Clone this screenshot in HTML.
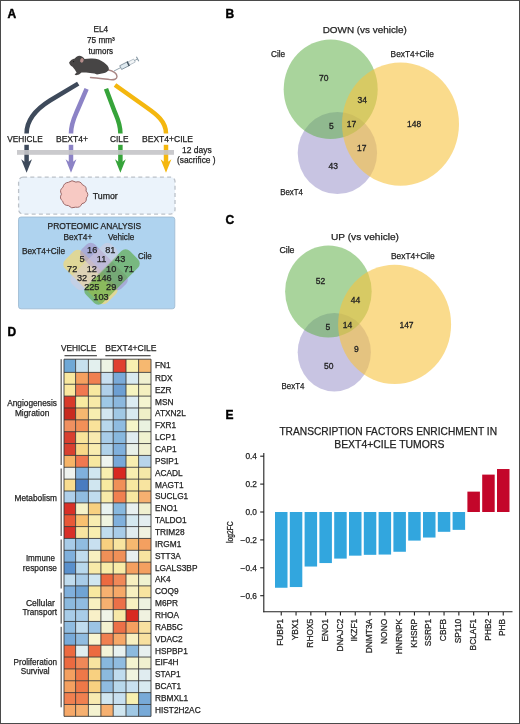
<!DOCTYPE html>
<html><head><meta charset="utf-8"><style>
html,body{margin:0;padding:0;background:#fff;}
svg{display:block;will-change:transform;}
text{font-family:"Liberation Sans",sans-serif;fill:#222;stroke:#222;stroke-width:0.25;}
</style></head><body>
<svg width="520" height="724" viewBox="0 0 520 724">
<rect x="0" y="0" width="520" height="724" fill="#fff"/>
<g font-weight="bold" style="fill:#000;stroke:#000;stroke-width:0.5">
<text x="7.50" y="17.60" font-size="12" style="fill:#000;stroke:#000;stroke-width:0.45">A</text>
<text x="225.50" y="18.00" font-size="12" style="fill:#000;stroke:#000;stroke-width:0.4">B</text>
<text x="225.50" y="224.00" font-size="12" style="fill:#000;stroke:#000;stroke-width:0.4">C</text>
<text x="7.50" y="336.10" font-size="12" style="fill:#000;stroke:#000;stroke-width:0.4">D</text>
<text x="225.50" y="419.10" font-size="12" style="fill:#000;stroke:#000;stroke-width:0.4">E</text>
</g>
<text x="93.50" y="31.80" font-size="8.3" textLength="14.70" lengthAdjust="spacingAndGlyphs">EL4</text>
<text x="87.00" y="42.90" font-size="8.3" textLength="27.80" lengthAdjust="spacingAndGlyphs">75 mm³</text>
<text x="88.60" y="53.50" font-size="8.3" textLength="24.50" lengthAdjust="spacingAndGlyphs">tumors</text>
<path d="M107.5,69.8 C113,71 117,73.5 117,76.6 C117,79.2 114,80 110,79.6 C103,78.8 96,77.9 90.5,77.5" fill="none" stroke="#a98684" stroke-width="1.4" stroke-linecap="round"/>
<path d="M69.1,62.4 C70.5,60 72.5,59 74.8,58.4 C76.5,57 77.5,55.8 79.3,55.8 C81.5,55.8 83.5,57.5 84.6,59.1 C87,58.6 89,58.4 92,58.5 C97,58.6 101,60 104,62.6 C107,65 109,67 108.9,69 C108.7,71 106,72.8 103.2,73.2 L99.5,74 L97,74.6 L94.5,73.4 C91,73.2 89,72.6 86,72.4 L81.5,72.6 L79,74.4 L76,75.2 L74.6,74.6 L76.6,72.4 C75.3,70.6 74.3,68.6 72.5,66.8 C70.8,65.5 69.3,64.2 69.1,62.4 Z" fill="#474545"/>
<ellipse cx="81.9" cy="60.4" rx="1.7" ry="2.3" fill="#b48c8a" transform="rotate(20 81.9 60.4)"/>
<circle cx="73.6" cy="61.6" r="0.6" fill="#1a1a1a"/>
<g transform="translate(114,71) rotate(-27)"><line x1="0" y1="0" x2="7.5" y2="0" stroke="#8596a2" stroke-width="0.8"/><rect x="7.5" y="-2.1" width="9" height="4.2" fill="#dfeaf0" stroke="#7d8e9a" stroke-width="0.8"/><rect x="15.2" y="-2.3" width="1.6" height="4.6" fill="#42525e"/><rect x="16.8" y="-1.7" width="6.2" height="3.4" fill="#f2f5f7" stroke="#9aa8b2" stroke-width="0.6"/><line x1="23" y1="0" x2="26.5" y2="0" stroke="#8596a2" stroke-width="0.8"/><line x1="26.5" y1="-2.6" x2="26.5" y2="2.6" stroke="#8596a2" stroke-width="1.1"/></g>
<g fill="none" stroke-width="4.5">
<path d="M78.2,83.6 L50,100.5 C38,108 26.6,118 26.6,133.4" stroke="#3e4a5b"/>
<path d="M86.6,88.8 L77.5,110 C74.5,117 71,123 71,133.4" stroke="#8c83c6"/>
<path d="M106,88.8 L114,110 C116.8,117 120.4,123 120.4,133.4" stroke="#36a43a"/>
<path d="M115,85 L146,107 C156,114 166,121 166,133.4" stroke="#f4b70f"/>
<path d="M26.6,144.8 L26.6,164" stroke="#3e4a5b"/>
<path d="M71,144.8 L71,164" stroke="#8c83c6"/>
<path d="M120.4,144.8 L120.4,164" stroke="#36a43a"/>
<path d="M166,144.8 L166,164" stroke="#f4b70f"/>
</g>
<polygon points="21.200000000000003,159.2 26.6,163.2 32.0,159.2 26.6,172.8" fill="#3e4a5b"/>
<polygon points="65.6,159.2 71,163.2 76.4,159.2 71,172.8" fill="#8c83c6"/>
<polygon points="115.0,159.2 120.4,163.2 125.80000000000001,159.2 120.4,172.8" fill="#36a43a"/>
<polygon points="160.6,159.2 166,163.2 171.4,159.2 166,172.8" fill="#f4b70f"/>
<rect x="17" y="150" width="157" height="4.8" fill="#c4c4c8" fill-opacity="0.9"/>
<text x="7.30" y="142.20" font-size="8.8" textLength="35.40" lengthAdjust="spacingAndGlyphs">VEHICLE</text>
<text x="56.00" y="142.20" font-size="8.8" textLength="32.00" lengthAdjust="spacingAndGlyphs">BEXT4+</text>
<text x="110.00" y="142.20" font-size="8.8" textLength="18.50" lengthAdjust="spacingAndGlyphs">CILE</text>
<text x="142.00" y="142.20" font-size="8.8" textLength="51.00" lengthAdjust="spacingAndGlyphs">BEXT4+CILE</text>
<text x="182.00" y="152.80" font-size="8.8" textLength="29.70" lengthAdjust="spacingAndGlyphs">12 days</text>
<text x="177.00" y="162.80" font-size="8.8" textLength="38.60" lengthAdjust="spacingAndGlyphs">(sacrifice )</text>
<rect x="18.6" y="177.1" width="156.4" height="37" rx="4.5" fill="#ebf3fb" stroke="#bcc2c9" stroke-width="1.3" stroke-dasharray="4,3.2"/>
<path d="M86.30,198.02 Q86.88,202.66 82.01,203.65 Q80.16,208.14 75.61,207.17 Q71.46,209.23 68.39,205.57 Q63.53,205.58 62.66,201.09 Q58.90,198.35 61.44,194.13 Q59.02,189.83 62.98,187.27 Q63.87,182.73 68.47,182.30 Q71.91,179.30 75.89,182.10 Q80.57,180.64 82.54,184.90 Q87.12,186.31 86.03,191.03 Q89.47,194.52 86.30,198.02 Z" fill="#f7c9c3" stroke="#9c6a6a" stroke-width="1" stroke-linejoin="round"/>
<text x="92.70" y="199.20" font-size="8.8">Tumor</text>
<rect x="18.5" y="217" width="156.3" height="91.8" rx="2.5" fill="#afd3ef" stroke="#9bb8cf" stroke-width="0.8"/>
<text x="47.50" y="228.60" font-size="8.8" textLength="93.70" lengthAdjust="spacingAndGlyphs">PROTEOMIC ANALYSIS</text>
<text x="63.50" y="239.60" font-size="8.8" textLength="28.80" lengthAdjust="spacingAndGlyphs">BexT4+</text>
<text x="108.00" y="239.60" font-size="8.8" textLength="26.30" lengthAdjust="spacingAndGlyphs">Vehicle</text>
<text x="22.00" y="254.00" font-size="8.8" textLength="43.00" lengthAdjust="spacingAndGlyphs">BexT4+Cile</text>
<text x="138.00" y="258.50" font-size="8.8" textLength="13.80" lengthAdjust="spacingAndGlyphs">Cile</text>
<rect x="60.50" y="265.00" width="60" height="24" rx="6" transform="rotate(45 90.5 277)" fill="#ffdb5e" fill-opacity="0.6"/>
<rect x="76.00" y="257.25" width="56" height="18.5" rx="6" transform="rotate(45 104 266.5)" fill="#a393c8" fill-opacity="0.62"/>
<rect x="81.00" y="265.25" width="62" height="23.5" rx="6" transform="rotate(-45 112 277)" fill="#53a636" fill-opacity="0.6"/>
<rect x="66.20" y="257.25" width="56" height="18.5" rx="6" transform="rotate(-45 94.2 266.5)" fill="#dccddc" fill-opacity="0.45"/>
<g text-anchor="middle">
<text x="92.20" y="252.80" font-size="9.2">16</text>
<text x="110.30" y="252.80" font-size="9.2">81</text>
<text x="82.00" y="262.00" font-size="9.2">5</text>
<text x="101.50" y="262.00" font-size="9.2">11</text>
<text x="120.20" y="262.00" font-size="9.2">43</text>
<text x="72.20" y="271.60" font-size="9.2">72</text>
<text x="91.80" y="271.60" font-size="9.2">12</text>
<text x="111.20" y="271.60" font-size="9.2">10</text>
<text x="128.80" y="271.60" font-size="9.2">71</text>
<text x="82.00" y="280.90" font-size="9.2">32</text>
<text x="101.50" y="280.90" font-size="9.2">2146</text>
<text x="120.20" y="280.90" font-size="9.2">9</text>
<text x="91.80" y="290.20" font-size="9.2">225</text>
<text x="111.20" y="290.20" font-size="9.2">29</text>
<text x="101.00" y="300.00" font-size="9.2">103</text>
</g>
<text x="322.70" y="33.10" font-size="9.9" textLength="84.20" lengthAdjust="spacingAndGlyphs">DOWN (vs vehicle)</text>
<ellipse cx="337.4" cy="153" rx="39.7" ry="41" fill="#9b94ca" fill-opacity="0.55"/>
<ellipse cx="330.7" cy="89.2" rx="47" ry="49.8" fill="#63b04a" fill-opacity="0.55"/>
<ellipse cx="400.5" cy="124.1" rx="58.5" ry="61.6" fill="#f7c33f" fill-opacity="0.6"/>
<text x="271.00" y="57.30" font-size="8.7" textLength="14.20" lengthAdjust="spacingAndGlyphs">Cile</text>
<text x="390.60" y="57.20" font-size="8.7" textLength="43.40" lengthAdjust="spacingAndGlyphs">BexT4+Cile</text>
<text x="280.20" y="194.80" font-size="8.7" textLength="22.80" lengthAdjust="spacingAndGlyphs">BexT4</text>
<g text-anchor="middle">
<text x="323.80" y="81.10" font-size="8.5" style="stroke-width:0.3">70</text>
<text x="362.30" y="102.60" font-size="8.5" style="stroke-width:0.3">34</text>
<text x="331.40" y="128.70" font-size="8.5" style="stroke-width:0.3">5</text>
<text x="351.50" y="126.80" font-size="8.5" style="stroke-width:0.3">17</text>
<text x="361.80" y="151.10" font-size="8.5" style="stroke-width:0.3">17</text>
<text x="333.20" y="169.10" font-size="8.5" style="stroke-width:0.3">43</text>
<text x="414.20" y="126.50" font-size="8.5" style="stroke-width:0.3">148</text>
</g>
<text x="331.00" y="239.50" font-size="9.9" textLength="68.00" lengthAdjust="spacingAndGlyphs">UP (vs vehicle)</text>
<ellipse cx="334.3" cy="352.2" rx="36.6" ry="39.2" fill="#9b94ca" fill-opacity="0.55"/>
<ellipse cx="328.4" cy="291.6" rx="43.3" ry="46" fill="#63b04a" fill-opacity="0.55"/>
<ellipse cx="394.6" cy="324.4" rx="56.5" ry="59.7" fill="#f7c33f" fill-opacity="0.6"/>
<text x="279.40" y="252.90" font-size="8.7" textLength="15.10" lengthAdjust="spacingAndGlyphs">Cile</text>
<text x="391.00" y="259.40" font-size="8.7" textLength="43.70" lengthAdjust="spacingAndGlyphs">BexT4+Cile</text>
<text x="281.50" y="389.40" font-size="8.7" textLength="22.90" lengthAdjust="spacingAndGlyphs">BexT4</text>
<g text-anchor="middle">
<text x="320.60" y="284.30" font-size="8.5" style="stroke-width:0.3">52</text>
<text x="355.60" y="303.10" font-size="8.5" style="stroke-width:0.3">44</text>
<text x="327.80" y="329.50" font-size="8.5" style="stroke-width:0.3">5</text>
<text x="347.50" y="327.90" font-size="8.5" style="stroke-width:0.3">14</text>
<text x="356.40" y="351.60" font-size="8.5" style="stroke-width:0.3">9</text>
<text x="328.70" y="369.10" font-size="8.5" style="stroke-width:0.3">50</text>
<text x="406.50" y="327.60" font-size="8.5" style="stroke-width:0.3">147</text>
</g>
<text x="60.90" y="350.90" font-size="9.2" textLength="35.40" lengthAdjust="spacingAndGlyphs">VEHICLE</text>
<text x="105.30" y="350.90" font-size="9.2" textLength="51.20" lengthAdjust="spacingAndGlyphs">BEXT4+CILE</text>
<rect x="64.5" y="355" width="32.4" height="1.3" fill="#555"/>
<rect x="105.3" y="355" width="45.3" height="1.3" fill="#555"/>
<rect x="64.00" y="359.20" width="11.65" height="13.25" fill="#6fa8d6"/><rect x="75.60" y="359.20" width="12.85" height="13.25" fill="#c6e0ee"/><rect x="88.40" y="359.20" width="12.55" height="13.25" fill="#e3f0ee"/><rect x="100.90" y="359.20" width="12.35" height="13.25" fill="#eef4e4"/><rect x="113.20" y="359.20" width="12.85" height="13.25" fill="#e04030"/><rect x="126.00" y="359.20" width="12.65" height="13.25" fill="#f8f0b0"/><rect x="138.60" y="359.20" width="12.45" height="13.25" fill="#f6b870"/><rect x="64.00" y="372.40" width="11.65" height="11.91" fill="#f8e8a0"/><rect x="75.60" y="372.40" width="12.85" height="11.91" fill="#f5a060"/><rect x="88.40" y="372.40" width="12.55" height="11.91" fill="#f08050"/><rect x="100.90" y="372.40" width="12.35" height="11.91" fill="#c8dff0"/><rect x="113.20" y="372.40" width="12.85" height="11.91" fill="#7aaad8"/><rect x="126.00" y="372.40" width="12.65" height="11.91" fill="#d8eaf0"/><rect x="138.60" y="372.40" width="12.45" height="11.91" fill="#f0f0d0"/><rect x="64.00" y="384.26" width="11.65" height="11.91" fill="#fae8a0"/><rect x="75.60" y="384.26" width="12.85" height="11.91" fill="#f07850"/><rect x="88.40" y="384.26" width="12.55" height="11.91" fill="#f8e8a0"/><rect x="100.90" y="384.26" width="12.35" height="11.91" fill="#b0d0ea"/><rect x="113.20" y="384.26" width="12.85" height="11.91" fill="#6d9fd2"/><rect x="126.00" y="384.26" width="12.65" height="11.91" fill="#f6f4c0"/><rect x="138.60" y="384.26" width="12.45" height="11.91" fill="#f5f0c0"/><rect x="64.00" y="396.12" width="11.65" height="11.91" fill="#d83a2a"/><rect x="75.60" y="396.12" width="12.85" height="11.91" fill="#f8eaa0"/><rect x="88.40" y="396.12" width="12.55" height="11.91" fill="#f8eaa8"/><rect x="100.90" y="396.12" width="12.35" height="11.91" fill="#9ec8e6"/><rect x="113.20" y="396.12" width="12.85" height="11.91" fill="#8bb8de"/><rect x="126.00" y="396.12" width="12.65" height="11.91" fill="#dcecf2"/><rect x="138.60" y="396.12" width="12.45" height="11.91" fill="#f5f5d0"/><rect x="64.00" y="407.98" width="11.65" height="11.91" fill="#c82a20"/><rect x="75.60" y="407.98" width="12.85" height="11.91" fill="#f6b870"/><rect x="88.40" y="407.98" width="12.55" height="11.91" fill="#f8eeb0"/><rect x="100.90" y="407.98" width="12.35" height="11.91" fill="#d2e6f0"/><rect x="113.20" y="407.98" width="12.85" height="11.91" fill="#a0c8e4"/><rect x="126.00" y="407.98" width="12.65" height="11.91" fill="#d8eaf0"/><rect x="138.60" y="407.98" width="12.45" height="11.91" fill="#f0f0c8"/><rect x="64.00" y="419.84" width="11.65" height="11.91" fill="#f09060"/><rect x="75.60" y="419.84" width="12.85" height="11.91" fill="#f29058"/><rect x="88.40" y="419.84" width="12.55" height="11.91" fill="#f9e29a"/><rect x="100.90" y="419.84" width="12.35" height="11.91" fill="#b8d8ec"/><rect x="113.20" y="419.84" width="12.85" height="11.91" fill="#8fbce0"/><rect x="126.00" y="419.84" width="12.65" height="11.91" fill="#f5f5c8"/><rect x="138.60" y="419.84" width="12.45" height="11.91" fill="#eaf2e0"/><rect x="64.00" y="431.70" width="11.65" height="11.91" fill="#d84030"/><rect x="75.60" y="431.70" width="12.85" height="11.91" fill="#f8e49a"/><rect x="88.40" y="431.70" width="12.55" height="11.91" fill="#f8eab0"/><rect x="100.90" y="431.70" width="12.35" height="11.91" fill="#a8cce8"/><rect x="113.20" y="431.70" width="12.85" height="11.91" fill="#88b8de"/><rect x="126.00" y="431.70" width="12.65" height="11.91" fill="#e0ecf0"/><rect x="138.60" y="431.70" width="12.45" height="11.91" fill="#f0f2d0"/><rect x="64.00" y="443.56" width="11.65" height="11.91" fill="#d84030"/><rect x="75.60" y="443.56" width="12.85" height="11.91" fill="#f8d888"/><rect x="88.40" y="443.56" width="12.55" height="11.91" fill="#f8ecb0"/><rect x="100.90" y="443.56" width="12.35" height="11.91" fill="#b0d2ea"/><rect x="113.20" y="443.56" width="12.85" height="11.91" fill="#80b0dc"/><rect x="126.00" y="443.56" width="12.65" height="11.91" fill="#e8f0e8"/><rect x="138.60" y="443.56" width="12.45" height="11.91" fill="#f0f0d0"/><rect x="64.00" y="455.42" width="11.65" height="11.91" fill="#f6b468"/><rect x="75.60" y="455.42" width="12.85" height="11.91" fill="#f07850"/><rect x="88.40" y="455.42" width="12.55" height="11.91" fill="#f8e8a0"/><rect x="100.90" y="455.42" width="12.35" height="11.91" fill="#eef4f0"/><rect x="113.20" y="455.42" width="12.85" height="11.91" fill="#78a8d8"/><rect x="126.00" y="455.42" width="12.65" height="11.91" fill="#f8eeb0"/><rect x="138.60" y="455.42" width="12.45" height="11.91" fill="#b8d4ea"/><rect x="64.00" y="467.28" width="11.65" height="11.91" fill="#eef2ee"/><rect x="75.60" y="467.28" width="12.85" height="11.91" fill="#80b0dc"/><rect x="88.40" y="467.28" width="12.55" height="11.91" fill="#d0e6f0"/><rect x="100.90" y="467.28" width="12.35" height="11.91" fill="#f8eeb0"/><rect x="113.20" y="467.28" width="12.85" height="11.91" fill="#d82820"/><rect x="126.00" y="467.28" width="12.65" height="11.91" fill="#f8eeb0"/><rect x="138.60" y="467.28" width="12.45" height="11.91" fill="#f5e8a8"/><rect x="64.00" y="479.14" width="11.65" height="11.91" fill="#f8dc90"/><rect x="75.60" y="479.14" width="12.85" height="11.91" fill="#4a7cc0"/><rect x="88.40" y="479.14" width="12.55" height="11.91" fill="#d0e6f0"/><rect x="100.90" y="479.14" width="12.35" height="11.91" fill="#f8eaa0"/><rect x="113.20" y="479.14" width="12.85" height="11.91" fill="#f09058"/><rect x="126.00" y="479.14" width="12.65" height="11.91" fill="#f8e8a0"/><rect x="138.60" y="479.14" width="12.45" height="11.91" fill="#f8e4a0"/><rect x="64.00" y="491.00" width="11.65" height="11.91" fill="#b0d0ea"/><rect x="75.60" y="491.00" width="12.85" height="11.91" fill="#90bce0"/><rect x="88.40" y="491.00" width="12.55" height="11.91" fill="#c0dcee"/><rect x="100.90" y="491.00" width="12.35" height="11.91" fill="#f8eaa8"/><rect x="113.20" y="491.00" width="12.85" height="11.91" fill="#f08050"/><rect x="126.00" y="491.00" width="12.65" height="11.91" fill="#f8e8a0"/><rect x="138.60" y="491.00" width="12.45" height="11.91" fill="#f6b070"/><rect x="64.00" y="502.86" width="11.65" height="11.91" fill="#d83028"/><rect x="75.60" y="502.86" width="12.85" height="11.91" fill="#f6f2c8"/><rect x="88.40" y="502.86" width="12.55" height="11.91" fill="#f8d080"/><rect x="100.90" y="502.86" width="12.35" height="11.91" fill="#e8f2f0"/><rect x="113.20" y="502.86" width="12.85" height="11.91" fill="#88b8de"/><rect x="126.00" y="502.86" width="12.65" height="11.91" fill="#e8f0f0"/><rect x="138.60" y="502.86" width="12.45" height="11.91" fill="#f0f0d0"/><rect x="64.00" y="514.72" width="11.65" height="11.91" fill="#e85838"/><rect x="75.60" y="514.72" width="12.85" height="11.91" fill="#f8c070"/><rect x="88.40" y="514.72" width="12.55" height="11.91" fill="#f8ecb0"/><rect x="100.90" y="514.72" width="12.35" height="11.91" fill="#f0f4e0"/><rect x="113.20" y="514.72" width="12.85" height="11.91" fill="#80b0dc"/><rect x="126.00" y="514.72" width="12.65" height="11.91" fill="#d4e8f0"/><rect x="138.60" y="514.72" width="12.45" height="11.91" fill="#e4eef0"/><rect x="64.00" y="526.58" width="11.65" height="11.91" fill="#d83028"/><rect x="75.60" y="526.58" width="12.85" height="11.91" fill="#f8e4a0"/><rect x="88.40" y="526.58" width="12.55" height="11.91" fill="#f8eeb0"/><rect x="100.90" y="526.58" width="12.35" height="11.91" fill="#c0dcee"/><rect x="113.20" y="526.58" width="12.85" height="11.91" fill="#a8cce8"/><rect x="126.00" y="526.58" width="12.65" height="11.91" fill="#e0ecf0"/><rect x="138.60" y="526.58" width="12.45" height="11.91" fill="#f0f2e0"/><rect x="64.00" y="538.44" width="11.65" height="11.91" fill="#a8cce8"/><rect x="75.60" y="538.44" width="12.85" height="11.91" fill="#90bce0"/><rect x="88.40" y="538.44" width="12.55" height="11.91" fill="#c8e0f0"/><rect x="100.90" y="538.44" width="12.35" height="11.91" fill="#f8d080"/><rect x="113.20" y="538.44" width="12.85" height="11.91" fill="#f8e4a0"/><rect x="126.00" y="538.44" width="12.65" height="11.91" fill="#f6b870"/><rect x="138.60" y="538.44" width="12.45" height="11.91" fill="#f4a060"/><rect x="64.00" y="550.30" width="11.65" height="11.91" fill="#80b0dc"/><rect x="75.60" y="550.30" width="12.85" height="11.91" fill="#c0dcee"/><rect x="88.40" y="550.30" width="12.55" height="11.91" fill="#f8f0c0"/><rect x="100.90" y="550.30" width="12.35" height="11.91" fill="#f09058"/><rect x="113.20" y="550.30" width="12.85" height="11.91" fill="#f09058"/><rect x="126.00" y="550.30" width="12.65" height="11.91" fill="#e8f0f0"/><rect x="138.60" y="550.30" width="12.45" height="11.91" fill="#f8e4a0"/><rect x="64.00" y="562.16" width="11.65" height="11.91" fill="#5a90cc"/><rect x="75.60" y="562.16" width="12.85" height="11.91" fill="#b8d8ec"/><rect x="88.40" y="562.16" width="12.55" height="11.91" fill="#f8eaa8"/><rect x="100.90" y="562.16" width="12.35" height="11.91" fill="#f8eca8"/><rect x="113.20" y="562.16" width="12.85" height="11.91" fill="#f8eca8"/><rect x="126.00" y="562.16" width="12.65" height="11.91" fill="#f4a060"/><rect x="138.60" y="562.16" width="12.45" height="11.91" fill="#f4a060"/><rect x="64.00" y="574.02" width="11.65" height="11.91" fill="#c0dcee"/><rect x="75.60" y="574.02" width="12.85" height="11.91" fill="#a8cce8"/><rect x="88.40" y="574.02" width="12.55" height="11.91" fill="#d0e6f0"/><rect x="100.90" y="574.02" width="12.35" height="11.91" fill="#ec6a40"/><rect x="113.20" y="574.02" width="12.85" height="11.91" fill="#f08858"/><rect x="126.00" y="574.02" width="12.65" height="11.91" fill="#f8f0c0"/><rect x="138.60" y="574.02" width="12.45" height="11.91" fill="#f0f2d0"/><rect x="64.00" y="585.88" width="11.65" height="11.91" fill="#80b0dc"/><rect x="75.60" y="585.88" width="12.85" height="11.91" fill="#70a4d4"/><rect x="88.40" y="585.88" width="12.55" height="11.91" fill="#f8e8a0"/><rect x="100.90" y="585.88" width="12.35" height="11.91" fill="#f6b070"/><rect x="113.20" y="585.88" width="12.85" height="11.91" fill="#f6a868"/><rect x="126.00" y="585.88" width="12.65" height="11.91" fill="#f8f0c0"/><rect x="138.60" y="585.88" width="12.45" height="11.91" fill="#f8e4a0"/><rect x="64.00" y="597.74" width="11.65" height="11.91" fill="#8cbade"/><rect x="75.60" y="597.74" width="12.85" height="11.91" fill="#90bce0"/><rect x="88.40" y="597.74" width="12.55" height="11.91" fill="#f8f0c0"/><rect x="100.90" y="597.74" width="12.35" height="11.91" fill="#f6b070"/><rect x="113.20" y="597.74" width="12.85" height="11.91" fill="#ec7048"/><rect x="126.00" y="597.74" width="12.65" height="11.91" fill="#f8f0c0"/><rect x="138.60" y="597.74" width="12.45" height="11.91" fill="#eef2e0"/><rect x="64.00" y="609.60" width="11.65" height="11.91" fill="#a8cce8"/><rect x="75.60" y="609.60" width="12.85" height="11.91" fill="#a8cce8"/><rect x="88.40" y="609.60" width="12.55" height="11.91" fill="#f8f0c8"/><rect x="100.90" y="609.60" width="12.35" height="11.91" fill="#f0f4e8"/><rect x="113.20" y="609.60" width="12.85" height="11.91" fill="#f8e8a8"/><rect x="126.00" y="609.60" width="12.65" height="11.91" fill="#d82a20"/><rect x="138.60" y="609.60" width="12.45" height="11.91" fill="#f0f2e0"/><rect x="64.00" y="621.46" width="11.65" height="11.91" fill="#90bce0"/><rect x="75.60" y="621.46" width="12.85" height="11.91" fill="#c0dcee"/><rect x="88.40" y="621.46" width="12.55" height="11.91" fill="#9cc4e4"/><rect x="100.90" y="621.46" width="12.35" height="11.91" fill="#f4f2d0"/><rect x="113.20" y="621.46" width="12.85" height="11.91" fill="#ec7048"/><rect x="126.00" y="621.46" width="12.65" height="11.91" fill="#f4a060"/><rect x="138.60" y="621.46" width="12.45" height="11.91" fill="#f8e0a0"/><rect x="64.00" y="633.32" width="11.65" height="11.91" fill="#78aad8"/><rect x="75.60" y="633.32" width="12.85" height="11.91" fill="#90bce0"/><rect x="88.40" y="633.32" width="12.55" height="11.91" fill="#f8f4d0"/><rect x="100.90" y="633.32" width="12.35" height="11.91" fill="#f08050"/><rect x="113.20" y="633.32" width="12.85" height="11.91" fill="#f6a868"/><rect x="126.00" y="633.32" width="12.65" height="11.91" fill="#f8f0c0"/><rect x="138.60" y="633.32" width="12.45" height="11.91" fill="#f8e0a0"/><rect x="64.00" y="645.18" width="11.65" height="11.91" fill="#ec6a40"/><rect x="75.60" y="645.18" width="12.85" height="11.91" fill="#e0eef0"/><rect x="88.40" y="645.18" width="12.55" height="11.91" fill="#ec6a40"/><rect x="100.90" y="645.18" width="12.35" height="11.91" fill="#f4f4d8"/><rect x="113.20" y="645.18" width="12.85" height="11.91" fill="#e8f2f0"/><rect x="126.00" y="645.18" width="12.65" height="11.91" fill="#8cbade"/><rect x="138.60" y="645.18" width="12.45" height="11.91" fill="#e8f0f0"/><rect x="64.00" y="657.04" width="11.65" height="11.91" fill="#ec6a40"/><rect x="75.60" y="657.04" width="12.85" height="11.91" fill="#f08858"/><rect x="88.40" y="657.04" width="12.55" height="11.91" fill="#f8e4a0"/><rect x="100.90" y="657.04" width="12.35" height="11.91" fill="#88b8de"/><rect x="113.20" y="657.04" width="12.85" height="11.91" fill="#90bce0"/><rect x="126.00" y="657.04" width="12.65" height="11.91" fill="#f4f4d0"/><rect x="138.60" y="657.04" width="12.45" height="11.91" fill="#f0f0d0"/><rect x="64.00" y="668.90" width="11.65" height="11.91" fill="#f4a060"/><rect x="75.60" y="668.90" width="12.85" height="11.91" fill="#ee7848"/><rect x="88.40" y="668.90" width="12.55" height="11.91" fill="#f8d080"/><rect x="100.90" y="668.90" width="12.35" height="11.91" fill="#8cbade"/><rect x="113.20" y="668.90" width="12.85" height="11.91" fill="#c0dcee"/><rect x="126.00" y="668.90" width="12.65" height="11.91" fill="#f0f4e0"/><rect x="138.60" y="668.90" width="12.45" height="11.91" fill="#e0ecf0"/><rect x="64.00" y="680.76" width="11.65" height="11.91" fill="#f4a060"/><rect x="75.60" y="680.76" width="12.85" height="11.91" fill="#ee7848"/><rect x="88.40" y="680.76" width="12.55" height="11.91" fill="#f8d080"/><rect x="100.90" y="680.76" width="12.35" height="11.91" fill="#90bce0"/><rect x="113.20" y="680.76" width="12.85" height="11.91" fill="#b8d8ec"/><rect x="126.00" y="680.76" width="12.65" height="11.91" fill="#c8e0f0"/><rect x="138.60" y="680.76" width="12.45" height="11.91" fill="#d8eaf0"/><rect x="64.00" y="692.62" width="11.65" height="11.91" fill="#f08050"/><rect x="75.60" y="692.62" width="12.85" height="11.91" fill="#f08050"/><rect x="88.40" y="692.62" width="12.55" height="11.91" fill="#f8eab0"/><rect x="100.90" y="692.62" width="12.35" height="11.91" fill="#d0e6f0"/><rect x="113.20" y="692.62" width="12.85" height="11.91" fill="#c8e0f0"/><rect x="126.00" y="692.62" width="12.65" height="11.91" fill="#f8f0b0"/><rect x="138.60" y="692.62" width="12.45" height="11.91" fill="#78aad8"/><rect x="64.00" y="704.48" width="11.65" height="11.91" fill="#f6a868"/><rect x="75.60" y="704.48" width="12.85" height="11.91" fill="#f6b070"/><rect x="88.40" y="704.48" width="12.55" height="11.91" fill="#f4f2d0"/><rect x="100.90" y="704.48" width="12.35" height="11.91" fill="#f6b070"/><rect x="113.20" y="704.48" width="12.85" height="11.91" fill="#d0e6f0"/><rect x="126.00" y="704.48" width="12.65" height="11.91" fill="#a0c8e4"/><rect x="138.60" y="704.48" width="12.45" height="11.91" fill="#78aad8"/>
<g stroke="#333" stroke-width="0.85"><line x1="64.00" y1="359.2" x2="64.00" y2="716.34"/><line x1="75.60" y1="359.2" x2="75.60" y2="716.34"/><line x1="88.40" y1="359.2" x2="88.40" y2="716.34"/><line x1="100.90" y1="359.2" x2="100.90" y2="716.34"/><line x1="113.20" y1="359.2" x2="113.20" y2="716.34"/><line x1="126.00" y1="359.2" x2="126.00" y2="716.34"/><line x1="138.60" y1="359.2" x2="138.60" y2="716.34"/><line x1="151.00" y1="359.2" x2="151.00" y2="716.34"/><line x1="64.0" y1="359.20" x2="151.0" y2="359.20"/><line x1="64.0" y1="372.40" x2="151.0" y2="372.40"/><line x1="64.0" y1="384.26" x2="151.0" y2="384.26"/><line x1="64.0" y1="396.12" x2="151.0" y2="396.12"/><line x1="64.0" y1="407.98" x2="151.0" y2="407.98"/><line x1="64.0" y1="419.84" x2="151.0" y2="419.84"/><line x1="64.0" y1="431.70" x2="151.0" y2="431.70"/><line x1="64.0" y1="443.56" x2="151.0" y2="443.56"/><line x1="64.0" y1="455.42" x2="151.0" y2="455.42"/><line x1="64.0" y1="467.28" x2="151.0" y2="467.28"/><line x1="64.0" y1="479.14" x2="151.0" y2="479.14"/><line x1="64.0" y1="491.00" x2="151.0" y2="491.00"/><line x1="64.0" y1="502.86" x2="151.0" y2="502.86"/><line x1="64.0" y1="514.72" x2="151.0" y2="514.72"/><line x1="64.0" y1="526.58" x2="151.0" y2="526.58"/><line x1="64.0" y1="538.44" x2="151.0" y2="538.44"/><line x1="64.0" y1="550.30" x2="151.0" y2="550.30"/><line x1="64.0" y1="562.16" x2="151.0" y2="562.16"/><line x1="64.0" y1="574.02" x2="151.0" y2="574.02"/><line x1="64.0" y1="585.88" x2="151.0" y2="585.88"/><line x1="64.0" y1="597.74" x2="151.0" y2="597.74"/><line x1="64.0" y1="609.60" x2="151.0" y2="609.60"/><line x1="64.0" y1="621.46" x2="151.0" y2="621.46"/><line x1="64.0" y1="633.32" x2="151.0" y2="633.32"/><line x1="64.0" y1="645.18" x2="151.0" y2="645.18"/><line x1="64.0" y1="657.04" x2="151.0" y2="657.04"/><line x1="64.0" y1="668.90" x2="151.0" y2="668.90"/><line x1="64.0" y1="680.76" x2="151.0" y2="680.76"/><line x1="64.0" y1="692.62" x2="151.0" y2="692.62"/><line x1="64.0" y1="704.48" x2="151.0" y2="704.48"/><line x1="64.0" y1="716.34" x2="151.0" y2="716.34"/></g>
<text x="155.00" y="368.30" font-size="8.3">FN1</text><text x="155.00" y="380.83" font-size="8.3">RDX</text><text x="155.00" y="392.69" font-size="8.3">EZR</text><text x="155.00" y="404.55" font-size="8.3">MSN</text><text x="155.00" y="416.41" font-size="8.3">ATXN2L</text><text x="155.00" y="428.27" font-size="8.3">FXR1</text><text x="155.00" y="440.13" font-size="8.3">LCP1</text><text x="155.00" y="451.99" font-size="8.3">CAP1</text><text x="155.00" y="463.85" font-size="8.3">PSIP1</text><text x="155.00" y="475.71" font-size="8.3">ACADL</text><text x="155.00" y="487.57" font-size="8.3">MAGT1</text><text x="155.00" y="499.43" font-size="8.3">SUCLG1</text><text x="155.00" y="511.29" font-size="8.3">ENO1</text><text x="155.00" y="523.15" font-size="8.3">TALDO1</text><text x="155.00" y="535.01" font-size="8.3">TRIM28</text><text x="155.00" y="546.87" font-size="8.3">IRGM1</text><text x="155.00" y="558.73" font-size="8.3">STT3A</text><text x="155.00" y="570.59" font-size="8.3">LGALS3BP</text><text x="155.00" y="582.45" font-size="8.3">AK4</text><text x="155.00" y="594.31" font-size="8.3">COQ9</text><text x="155.00" y="606.17" font-size="8.3">M6PR</text><text x="155.00" y="618.03" font-size="8.3">RHOA</text><text x="155.00" y="629.89" font-size="8.3">RAB5C</text><text x="155.00" y="641.75" font-size="8.3">VDAC2</text><text x="155.00" y="653.61" font-size="8.3">HSPBP1</text><text x="155.00" y="665.47" font-size="8.3">EIF4H</text><text x="155.00" y="677.33" font-size="8.3">STAP1</text><text x="155.00" y="689.19" font-size="8.3">BCAT1</text><text x="155.00" y="701.05" font-size="8.3">RBMXL1</text><text x="155.00" y="712.91" font-size="8.3">HIST2H2AC</text>
<g fill="#444"><rect x="60.6" y="359.2" width="1.1" height="105.8"/><rect x="60.6" y="468.5" width="1.1" height="67.5"/><rect x="60.6" y="539.5" width="1.1" height="49"/><rect x="60.6" y="592.6" width="1.1" height="31"/><rect x="60.6" y="626.8" width="1.1" height="80.5"/></g>
<text x="7.20" y="405.50" font-size="8.8" textLength="49.80" lengthAdjust="spacingAndGlyphs">Angiogenesis</text>
<text x="14.90" y="416.00" font-size="8.8" textLength="34.40" lengthAdjust="spacingAndGlyphs">Migration</text>
<text x="14.50" y="500.70" font-size="8.8" textLength="42.50" lengthAdjust="spacingAndGlyphs">Metabolism</text>
<text x="25.90" y="560.80" font-size="8.8" textLength="29.00" lengthAdjust="spacingAndGlyphs">Immune</text>
<text x="22.80" y="570.50" font-size="8.8" textLength="34.20" lengthAdjust="spacingAndGlyphs">response</text>
<text x="25.90" y="606.00" font-size="8.8" textLength="29.00" lengthAdjust="spacingAndGlyphs">Cellular</text>
<text x="22.40" y="614.80" font-size="8.8" textLength="34.60" lengthAdjust="spacingAndGlyphs">Transport</text>
<text x="13.50" y="665.00" font-size="8.8" textLength="43.50" lengthAdjust="spacingAndGlyphs">Proliferation</text>
<text x="20.70" y="673.60" font-size="8.8" textLength="29.00" lengthAdjust="spacingAndGlyphs">Survival</text>
<text x="279.40" y="435.20" font-size="10.5" textLength="217.60" lengthAdjust="spacingAndGlyphs">TRANSCRIPTION FACTORS ENRICHMENT IN</text>
<text x="334.20" y="447.60" font-size="10.5" textLength="110.20" lengthAdjust="spacingAndGlyphs">BEXT4+CILE TUMORS</text>
<rect x="275.00" y="512.00" width="12.5" height="75.75" fill="#32a6de"/><rect x="289.80" y="512.00" width="12.5" height="75.05" fill="#32a6de"/><rect x="304.60" y="512.00" width="12.5" height="54.54" fill="#32a6de"/><rect x="319.40" y="512.00" width="12.5" height="51.06" fill="#32a6de"/><rect x="334.20" y="512.00" width="12.5" height="46.59" fill="#32a6de"/><rect x="349.00" y="512.00" width="12.5" height="43.66" fill="#32a6de"/><rect x="363.80" y="512.00" width="12.5" height="42.83" fill="#32a6de"/><rect x="378.60" y="512.00" width="12.5" height="42.55" fill="#32a6de"/><rect x="393.40" y="512.00" width="12.5" height="39.76" fill="#32a6de"/><rect x="408.20" y="512.00" width="12.5" height="28.60" fill="#32a6de"/><rect x="423.00" y="512.00" width="12.5" height="25.53" fill="#32a6de"/><rect x="437.80" y="512.00" width="12.5" height="19.81" fill="#32a6de"/><rect x="452.60" y="512.00" width="12.5" height="17.86" fill="#32a6de"/><rect x="467.40" y="491.63" width="12.5" height="20.37" fill="#c3062a"/><rect x="482.20" y="474.61" width="12.5" height="37.39" fill="#c3062a"/><rect x="497.00" y="469.03" width="12.5" height="42.97" fill="#c3062a"/>
<g stroke="#222" stroke-width="1.1" fill="none"><line x1="263.8" y1="453" x2="263.8" y2="612.2"/><line x1="263.3" y1="611.7" x2="512.5" y2="611.7"/><line x1="260.2" y1="456.20" x2="264" y2="456.20"/><line x1="260.2" y1="484.10" x2="264" y2="484.10"/><line x1="260.2" y1="512.00" x2="264" y2="512.00"/><line x1="260.2" y1="539.90" x2="264" y2="539.90"/><line x1="260.2" y1="567.80" x2="264" y2="567.80"/><line x1="260.2" y1="595.70" x2="264" y2="595.70"/><line x1="281.25" y1="612" x2="281.25" y2="615.5"/><line x1="296.05" y1="612" x2="296.05" y2="615.5"/><line x1="310.85" y1="612" x2="310.85" y2="615.5"/><line x1="325.65" y1="612" x2="325.65" y2="615.5"/><line x1="340.45" y1="612" x2="340.45" y2="615.5"/><line x1="355.25" y1="612" x2="355.25" y2="615.5"/><line x1="370.05" y1="612" x2="370.05" y2="615.5"/><line x1="384.85" y1="612" x2="384.85" y2="615.5"/><line x1="399.65" y1="612" x2="399.65" y2="615.5"/><line x1="414.45" y1="612" x2="414.45" y2="615.5"/><line x1="429.25" y1="612" x2="429.25" y2="615.5"/><line x1="444.05" y1="612" x2="444.05" y2="615.5"/><line x1="458.85" y1="612" x2="458.85" y2="615.5"/><line x1="473.65" y1="612" x2="473.65" y2="615.5"/><line x1="488.45" y1="612" x2="488.45" y2="615.5"/><line x1="503.25" y1="612" x2="503.25" y2="615.5"/></g>
<text x="257.00" y="459.10" font-size="8.3" text-anchor="end">0.4</text><text x="257.00" y="487.00" font-size="8.3" text-anchor="end">0.2</text><text x="257.00" y="514.90" font-size="8.3" text-anchor="end">0.0</text><text x="257.00" y="542.80" font-size="8.3" text-anchor="end">−0.2</text><text x="257.00" y="570.70" font-size="8.3" text-anchor="end">−0.4</text><text x="257.00" y="598.60" font-size="8.3" text-anchor="end">−0.6</text>
<text transform="translate(283.45,618.8) rotate(-90)" text-anchor="end" font-size="8.4">FUBP1</text><text transform="translate(298.25,618.8) rotate(-90)" text-anchor="end" font-size="8.4">YBX1</text><text transform="translate(313.05,618.8) rotate(-90)" text-anchor="end" font-size="8.4">RHOX5</text><text transform="translate(327.85,618.8) rotate(-90)" text-anchor="end" font-size="8.4">ENO1</text><text transform="translate(342.65,618.8) rotate(-90)" text-anchor="end" font-size="8.4">DNAJC2</text><text transform="translate(357.45,618.8) rotate(-90)" text-anchor="end" font-size="8.4">IKZF1</text><text transform="translate(372.25,618.8) rotate(-90)" text-anchor="end" font-size="8.4">DNMT3A</text><text transform="translate(387.05,618.8) rotate(-90)" text-anchor="end" font-size="8.4">NONO</text><text transform="translate(401.85,618.8) rotate(-90)" text-anchor="end" font-size="8.4">HNRNPK</text><text transform="translate(416.65,618.8) rotate(-90)" text-anchor="end" font-size="8.4">KHSRP</text><text transform="translate(431.45,618.8) rotate(-90)" text-anchor="end" font-size="8.4">SSRP1</text><text transform="translate(446.25,618.8) rotate(-90)" text-anchor="end" font-size="8.4">CBFB</text><text transform="translate(461.05,618.8) rotate(-90)" text-anchor="end" font-size="8.4">SP110</text><text transform="translate(475.85,618.8) rotate(-90)" text-anchor="end" font-size="8.4">BCLAF1</text><text transform="translate(490.65,618.8) rotate(-90)" text-anchor="end" font-size="8.4">PHB2</text><text transform="translate(505.45,618.8) rotate(-90)" text-anchor="end" font-size="8.4">PHB</text>
<text transform="translate(233.2,532.2) rotate(-90)" text-anchor="middle" font-size="8.6" textLength="21.8" lengthAdjust="spacingAndGlyphs">log2FC</text>
<rect x="0.5" y="0.5" width="519" height="723" fill="none" stroke="#4a4a4a" stroke-width="1"/>
</svg>
</body></html>
